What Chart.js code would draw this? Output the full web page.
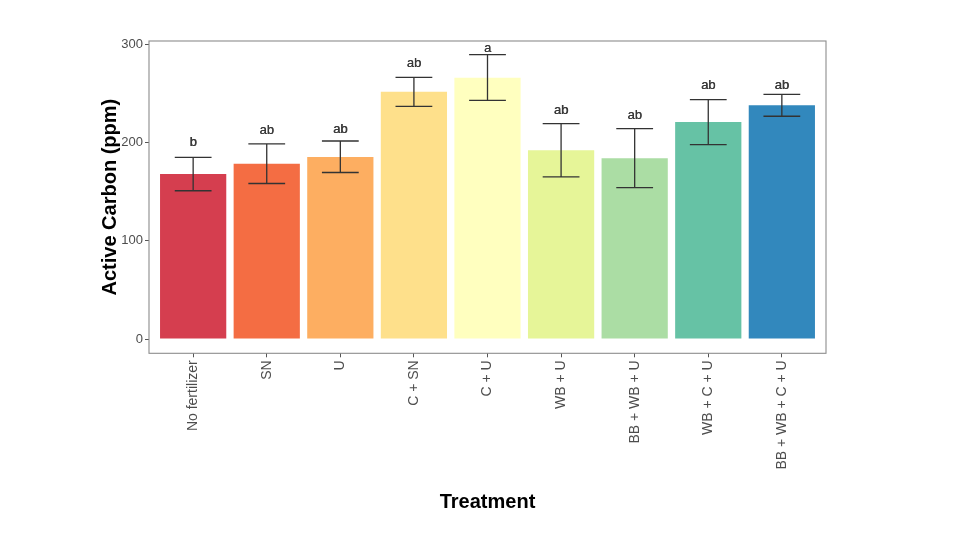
<!DOCTYPE html>
<html>
<head>
<meta charset="utf-8">
<script src="https://cdn.jsdelivr.net/npm/chart.js@4"></script>
<style>
html,body{margin:0;padding:0;background:#fff;}
#wrap{width:960px;height:540px;position:relative;}
</style>
</head>
<body>
<div id="wrap"><canvas id="c" width="960" height="540"></canvas></div>
<script>
const categories = ["No fertilizer","SN","U","C + SN","C + U","WB + U","BB + WB + U","WB + C + U","BB + WB + C + U"];
const meanValues = [168, 178.5, 185.5, 251.7, 266, 192.3, 184.2, 221, 238];
const errLow  = [151, 158.4, 169.6, 237, 243.1, 165.1, 154.3, 198, 226.9];
const errHigh = [185.1, 198.7, 201.7, 266.5, 289.6, 219.4, 214.3, 243.8, 249.2];
const letters = ["b","ab","ab","ab","a","ab","ab","ab","ab"];
const letterY = [196.6, 209.3, 210.3, 277, 292, 229.6, 224.5, 254.6, 255];
const barColors = ["#D53E4F","#F46D43","#FDAE61","#FEE08B","#FFFFBF","#E6F598","#ABDDA4","#66C2A5","#3288BD"];
const yTicks = [0, 100, 200, 300];

const FONT = "'Liberation Sans', Arial, sans-serif";

const extras = {
  id: 'extras',
  afterDatasetsDraw(chart) {
    const ctx = chart.ctx;
    const xs = chart.scales.x, ys = chart.scales.y;
    const unit = xs.getPixelForValue(1) - xs.getPixelForValue(0);
    ctx.save();
    ctx.strokeStyle = '#333333';
    ctx.lineWidth = 1.3;
    for (let i = 0; i < categories.length; i++) {
      const x = xs.getPixelForValue(i);
      const yl = ys.getPixelForValue(errLow[i]);
      const yh = ys.getPixelForValue(errHigh[i]);
      const hw = unit * 0.25;
      ctx.beginPath();
      ctx.moveTo(x, yl); ctx.lineTo(x, yh);
      ctx.moveTo(x - hw, yl); ctx.lineTo(x + hw, yl);
      ctx.moveTo(x - hw, yh); ctx.lineTo(x + hw, yh);
      ctx.stroke();
    }
    ctx.fillStyle = '#3a3a3a';
    ctx.font = "13px " + FONT;
    ctx.textAlign = 'center';
    ctx.textBaseline = 'alphabetic';
    for (let i = 0; i < categories.length; i++) {
      const x = xs.getPixelForValue(i), y = ys.getPixelForValue(letterY[i]);
      ctx.fillText(letters[i], x, y);
      ctx.fillText(letters[i], x + 0.35, y);
    }
    const a = chart.chartArea;
    ctx.strokeStyle = '#8c8c8c';
    ctx.lineWidth = 1.1;
    ctx.strokeRect(a.left, a.top, a.right - a.left, a.bottom - a.top);
    ctx.restore();
  }
};

new Chart(document.getElementById('c'), {
  type: 'bar',
  data: {
    datasets: [{
      data: meanValues.map((v, i) => ({ x: i, y: v })),
      backgroundColor: barColors,
      borderWidth: 0,
      barPercentage: 0.9,
      categoryPercentage: 1.0
    }]
  },
  options: {
    responsive: false,
    animation: false,
    devicePixelRatio: 1,
    layout: { padding: { left: 98, right: 134, top: 41, bottom: 26 } },
    plugins: { legend: { display: false }, tooltip: { enabled: false } },
    scales: {
      x: {
        type: 'linear',
        min: -0.6, max: categories.length - 0.4,
        offset: false,
        afterBuildTicks(s) { s.ticks = categories.map((c, i) => ({ value: i })); },
        grid: { display: true, offset: false, drawOnChartArea: false, tickLength: 4, color: '#555555', tickColor: '#555555' },
        border: { display: false },
        ticks: {
          autoSkip: false, minRotation: 90, maxRotation: 90, padding: 3,
          color: '#4d4d4d', font: { family: FONT, size: 14 },
          callback: (v) => categories[v]
        },
        title: { display: true, text: 'Treatment', color: '#000', font: { family: FONT, size: 20, weight: 'bold' }, padding: 0 },
        afterFit(s) { s.height = 160.7; }
      },
      y: {
        min: -14.5, max: 303.5,
        grid: { display: true, drawOnChartArea: false, tickLength: 4, color: '#555555', tickColor: '#555555' },
        border: { display: false },
        afterBuildTicks(s) { s.ticks = yTicks.map(v => ({ value: v })); },
        ticks: { padding: 2, color: '#4d4d4d', font: { family: FONT, size: 13 } },
        title: { display: true, text: 'Active Carbon (ppm)', color: '#000', font: { family: FONT, size: 20, weight: 'bold' }, padding: 0 },
        afterFit(s) { s.width = 51; }
      }
    }
  },
  plugins: [extras]
});
</script>
</body>
</html>
